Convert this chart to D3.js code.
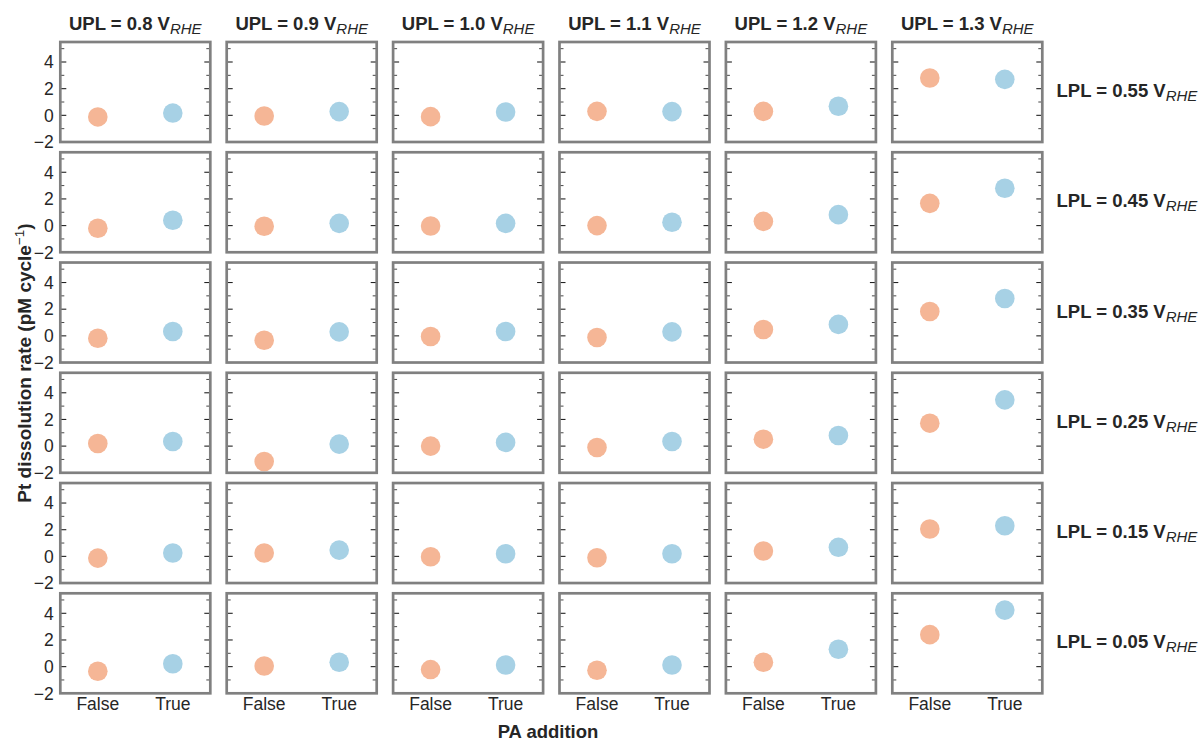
<!DOCTYPE html>
<html>
<head>
<meta charset="utf-8">
<script src="https://cdn.jsdelivr.net/npm/d3@7"></script>
<style>
  html, body { margin: 0; padding: 0; background: #ffffff; }
  svg { display: block; font-family: "Liberation Sans", Arial, Helvetica, sans-serif; }
</style>
</head>
<body>
<svg id="chart" width="1203" height="742"></svg>
<script>
// Upper potential limits (columns) and lower potential limits (rows)
const uplValues = ["0.8", "0.9", "1.0", "1.1", "1.2", "1.3"];
const lplValues = ["0.55", "0.45", "0.35", "0.25", "0.15", "0.05"];
const paAddition = ["False", "True"];
const yTickValues = [-2, 0, 2, 4];
const yMinorTicks = [-1, 1, 3, 5];

// Pt dissolution rate (pM cycle^-1) without PA, rows = LPL, cols = UPL
const rateFalse = [
  [-0.12, -0.05, -0.10,  0.30,  0.30, 2.80],
  [-0.20, -0.05, -0.03,  0.00,  0.32, 1.67],
  [-0.18, -0.33, -0.05, -0.12,  0.48, 1.83],
  [ 0.20, -1.15,  0.00, -0.10,  0.52, 1.72],
  [-0.13,  0.25, -0.03, -0.10,  0.40, 2.05],
  [-0.35,  0.05, -0.22, -0.27,  0.33, 2.40]
];
// Pt dissolution rate with PA
const rateTrue = [
  [0.17, 0.28, 0.25, 0.28, 0.68, 2.70],
  [0.40, 0.17, 0.17, 0.25, 0.82, 2.80],
  [0.33, 0.30, 0.33, 0.30, 0.86, 2.80],
  [0.35, 0.15, 0.28, 0.35, 0.80, 3.47],
  [0.25, 0.47, 0.20, 0.20, 0.68, 2.30],
  [0.22, 0.33, 0.12, 0.12, 1.30, 4.24]
];

const colorFalse = "#F5B696";
const colorTrue = "#A7D1E5";
const frameColor = "#808080";
const textColor = "#262626";

const svg = d3.select("#chart");

const colScale = d3.scaleBand().domain(d3.range(uplValues.length))
  .range([60.3, 1042.3]).paddingInner(16.4 / 166.4).paddingOuter(0);
const rowScale = d3.scaleBand().domain(d3.range(lplValues.length))
  .range([42, 693.3]).paddingInner(10.26 / 110.26).paddingOuter(0);

const pw = colScale.bandwidth();
const ph = rowScale.bandwidth();

const x = d3.scalePoint().domain(paAddition).range([0, pw]).padding(0.5);
const y = d3.scaleLinear().domain([-2, 5.5]).range([ph, 0]);

// Column headers
uplValues.forEach((u, c) => {
  const t = svg.append("text")
    .attr("x", colScale(c) + pw / 2)
    .attr("y", 30)
    .attr("text-anchor", "middle")
    .attr("fill", textColor)
    .style("font-size", "18.5px")
    .style("font-weight", "bold");
  t.append("tspan").text(`UPL = ${u} V`);
  t.append("tspan").attr("dy", 4).style("font-size", "15px")
    .style("font-style", "italic").style("font-weight", "normal").text("RHE");
});

// Row labels
lplValues.forEach((l, r) => {
  const t = svg.append("text")
    .attr("x", 1056.5)
    .attr("y", rowScale(r) + ph / 2 + 5)
    .attr("fill", textColor)
    .style("font-size", "18.5px")
    .style("font-weight", "bold");
  t.append("tspan").text(`LPL = ${l} V`);
  t.append("tspan").attr("dy", 4).style("font-size", "15px")
    .style("font-style", "italic").style("font-weight", "normal").text("RHE");
});

lplValues.forEach((l, r) => {
  uplValues.forEach((u, c) => {
    const g = svg.append("g")
      .attr("transform", `translate(${colScale(c)},${rowScale(r)})`);

    // inward ticks on both sides
    const sides = [{x0: 0, dir: 1}, {x0: pw, dir: -1}];
    sides.forEach(s => {
      g.selectAll(null).data(yTickValues).join("line")
        .attr("x1", s.x0).attr("x2", s.x0 + s.dir * 6)
        .attr("y1", d => y(d)).attr("y2", d => y(d))
        .attr("stroke", "#222").attr("stroke-width", 1.1);
      g.selectAll(null).data(yMinorTicks).join("line")
        .attr("x1", s.x0).attr("x2", s.x0 + s.dir * 4)
        .attr("y1", d => y(d)).attr("y2", d => y(d))
        .attr("stroke", "#333").attr("stroke-width", 0.9);
    });

    const pts = [
      {k: "False", v: rateFalse[r][c], col: colorFalse},
      {k: "True", v: rateTrue[r][c], col: colorTrue}
    ];
    g.selectAll("circle").data(pts).join("circle")
      .attr("cx", d => x(d.k))
      .attr("cy", d => y(d.v))
      .attr("r", 9.8)
      .attr("fill", d => d.col);

    g.append("rect")
      .attr("x", 0).attr("y", 0).attr("width", pw).attr("height", ph)
      .attr("fill", "none").attr("stroke", frameColor).attr("stroke-width", 2.7);

    if (c === 0) {
      g.selectAll(".ylab").data(yTickValues).join("text")
        .attr("x", -6.5)
        .attr("y", d => y(d))
        .attr("dy", "0.36em")
        .attr("text-anchor", "end")
        .attr("fill", textColor)
        .style("font-size", "17.5px")
        .text(d => d < 0 ? "\u2212" + Math.abs(d) : d);
    }
    if (r === lplValues.length - 1) {
      g.selectAll(".xlab").data(paAddition).join("text")
        .attr("x", d => x(d))
        .attr("y", ph + 17)
        .attr("text-anchor", "middle")
        .attr("fill", textColor)
        .style("font-size", "17.5px")
        .text(d => d);
    }
  });
});

// Axis titles
svg.append("text")
  .attr("x", 548).attr("y", 738)
  .attr("text-anchor", "middle")
  .attr("fill", textColor)
  .style("font-size", "18.5px").style("font-weight", "bold")
  .text("PA addition");

const yl = svg.append("text")
  .attr("transform", "translate(31,363) rotate(-90)")
  .attr("text-anchor", "middle")
  .attr("fill", textColor)
  .style("font-size", "19px").style("font-weight", "bold");
yl.append("tspan").text("Pt dissolution rate (pM cycle");
yl.append("tspan").attr("dy", -7).style("font-size", "13.5px").style("font-weight", "normal").text("\u22121");
yl.append("tspan").attr("dy", 7).text(")");
</script>
</body>
</html>
